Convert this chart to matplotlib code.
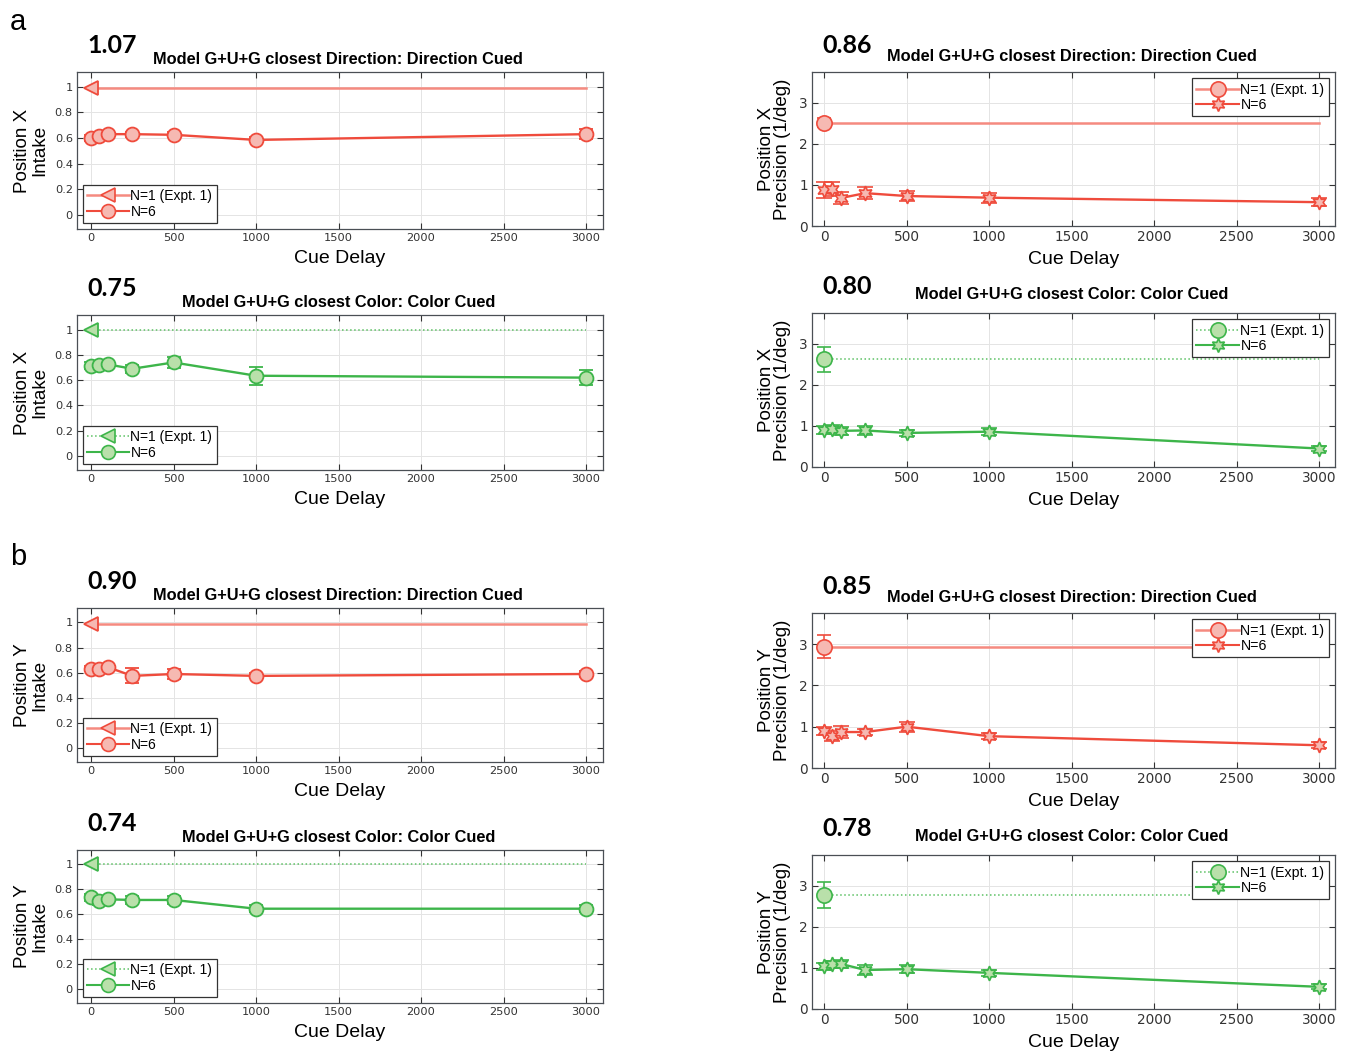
import matplotlib
matplotlib.use("Agg")
import matplotlib.pyplot as plt
from matplotlib.lines import Line2D
import numpy as np

# ---------------- data ----------------
cue_delay = [0, 50, 100, 250, 500, 1000, 3000]

# Intake panels (left column)
intake_x_dir = [0.60, 0.615, 0.63, 0.63, 0.625, 0.585, 0.63]
intake_x_dir_err = [0.02, 0.02, 0.02, 0.02, 0.02, 0.02, 0.04]
intake_x_col = [0.715, 0.72, 0.725, 0.69, 0.74, 0.635, 0.62]
intake_x_col_err = [0.03, 0.03, 0.03, 0.03, 0.04, 0.07, 0.06]
intake_y_dir = [0.63, 0.63, 0.645, 0.575, 0.59, 0.575, 0.59]
intake_y_dir_err = [0.02, 0.02, 0.02, 0.06, 0.04, 0.02, 0.02]
intake_y_col = [0.735, 0.705, 0.72, 0.715, 0.715, 0.645, 0.645]
intake_y_col_err = [0.03, 0.03, 0.03, 0.03, 0.03, 0.03, 0.03]
intake_n1 = [0.99, 1.0, 0.99, 1.0]

# Precision panels (right column)
prec_x_dir = [0.87, 0.90, 0.68, 0.80, 0.73, 0.69, 0.58]
prec_x_dir_err = [0.20, 0.18, 0.15, 0.15, 0.12, 0.12, 0.10]
prec_x_col = [0.90, 0.92, 0.88, 0.89, 0.83, 0.86, 0.45]
prec_x_col_err = [0.10, 0.10, 0.10, 0.10, 0.08, 0.09, 0.07]
prec_y_dir = [0.90, 0.78, 0.87, 0.87, 1.00, 0.77, 0.55]
prec_y_dir_err = [0.10, 0.12, 0.14, 0.08, 0.12, 0.07, 0.07]
prec_y_col = [1.04, 1.10, 1.10, 0.95, 0.97, 0.88, 0.54]
prec_y_col_err = [0.08, 0.08, 0.09, 0.12, 0.10, 0.08, 0.06]
prec_n1 = [2.52, 2.62, 2.93, 2.78]
prec_n1_err = [0.10, 0.30, 0.28, 0.31]

scores_left = ["1.07", "0.75", "0.90", "0.74"]
scores_right = ["0.86", "0.80", "0.85", "0.78"]
titles = ["Model G+U+G closest Direction: Direction Cued",
          "Model G+U+G closest Color: Color Cued",
          "Model G+U+G closest Direction: Direction Cued",
          "Model G+U+G closest Color: Color Cued"]
pos_names = ["X", "X", "Y", "Y"]
legend_labels = ["N=1 (Expt. 1)", "N=6"]
x_ticks = [0, 500, 1000, 1500, 2000, 2500, 3000]

# ---------------- style ----------------
RED_LINE = "#ef4b3c"
RED_FACE = "#f6b9b2"
RED_N1 = "#f58a80"
GREEN_LINE = "#3db54a"
GREEN_FACE = "#b9e0aa"
GREEN_N1 = "#5cc164"
FONT = "Liberation Sans"

W, H = 1348, 1051
fig = plt.figure(figsize=(W / 100, H / 100), dpi=100)
fig.patch.set_facecolor("white")


def add_ax(x0, x1, y0, y1):
    return fig.add_axes([x0 / W, 1 - y1 / H, (x1 - x0) / W, (y1 - y0) / H])


left_rows = [(72, 229), (315, 470), (608, 762), (850, 1003)]
right_rows = [(72, 226), (313, 467), (613, 768), (855, 1009)]

left_data = [(intake_x_dir, intake_x_dir_err), (intake_x_col, intake_x_col_err),
             (intake_y_dir, intake_y_dir_err), (intake_y_col, intake_y_col_err)]
right_data = [(prec_x_dir, prec_x_dir_err), (prec_x_col, prec_x_col_err),
              (prec_y_dir, prec_y_dir_err), (prec_y_col, prec_y_col_err)]
is_red = [True, False, True, False]

hexagram = (6, 1, 0)


def style_axes(ax, tick_fs):
    ax.grid(True, color="#e4e4e4", lw=0.7)
    ax.set_axisbelow(True)
    ax.tick_params(direction="in", top=True, right=True, labelsize=tick_fs,
                   length=4, width=0.8, colors="#333333", pad=3)
    for s in ax.spines.values():
        s.set_color("#4a4f55")
        s.set_linewidth(0.9)
    ax.set_xticks(x_ticks)
    ax.set_xlabel("Cue Delay", fontsize=14, family=FONT, labelpad=5)


def make_legend(ax, handles, loc, fs, pad):
    leg = ax.legend(handles=handles, loc=loc, frameon=True, fancybox=False,
                    borderpad=0.3, handlelength=3.0, labelspacing=0.1,
                    handletextpad=0.1, borderaxespad=pad,
                    prop={"family": FONT, "size": fs})
    leg.get_frame().set_edgecolor("#333333")
    leg.get_frame().set_linewidth(0.9)
    leg.get_frame().set_alpha(1)


for i in range(4):
    red = is_red[i]
    lc = RED_LINE if red else GREEN_LINE
    fc = RED_FACE if red else GREEN_FACE
    n1c = RED_N1 if red else GREEN_N1
    n1ls = "-" if red else ":"
    n1lw = 1.8 if red else 1.1

    # ---------- left: intake ----------
    ax = add_ax(77, 603, *left_rows[i])
    vals, errs = left_data[i]
    ax.plot([cue_delay[0], cue_delay[-1]], [intake_n1[i], intake_n1[i]],
            ls=n1ls, color=n1c, lw=n1lw, marker="<", markevery=[0],
            markersize=10.5, markerfacecolor=fc, markeredgecolor=lc,
            markeredgewidth=1.3)
    ax.errorbar(cue_delay, vals, yerr=errs, color=lc, lw=1.7, marker="o",
                markersize=10, markerfacecolor=fc, markeredgecolor=lc,
                markeredgewidth=1.3, capsize=5, elinewidth=1.1)
    ax.set_xlim(-85, 3103)
    ax.set_ylim(-0.11, 1.115)
    ax.set_yticks([0, 0.2, 0.4, 0.6, 0.8, 1])
    ax.set_yticklabels(["0", "0.2", "0.4", "0.6", "0.8", "1"])
    style_axes(ax, 8.2)
    ax.set_ylabel(f"Position {pos_names[i]}\nIntake", fontsize=13.5,
                  family=FONT, linespacing=0.95, labelpad=5)
    handles = [
        Line2D([], [], color=n1c, ls=n1ls, lw=n1lw, marker="<", markersize=10,
               markerfacecolor=fc, markeredgecolor=lc, markeredgewidth=1.2,
               label=legend_labels[0]),
        Line2D([], [], color=lc, lw=1.5, marker="o", markersize=10,
               markerfacecolor=fc, markeredgecolor=lc, markeredgewidth=1.2,
               label=legend_labels[1]),
    ]
    make_legend(ax, handles, "lower left", 10, 0.45)
    ax.set_title(titles[i], fontsize=11.8, fontweight="bold", family=FONT,
                 pad=6, x=0.497)
    ax.text(0.02, 1.095, scores_left[i], transform=ax.transAxes, fontsize=18,
            fontweight="bold", family="Lato", ha="left", va="bottom")

    # ---------- right: precision ----------
    ax = add_ax(812, 1335, *right_rows[i])
    vals, errs = right_data[i]
    ax.plot([cue_delay[0], cue_delay[-1]], [prec_n1[i], prec_n1[i]],
            ls=n1ls, color=n1c, lw=n1lw, zorder=2)
    ax.errorbar([cue_delay[0]], [prec_n1[i]], yerr=[prec_n1_err[i]], color=n1c,
                ls=n1ls, lw=n1lw, marker="o", markersize=11, markerfacecolor=fc,
                markeredgecolor=lc, markeredgewidth=1.2, capsize=5,
                elinewidth=1.1, ecolor=lc, zorder=3)
    ax.errorbar(cue_delay, vals, yerr=errs, color=lc, lw=1.7, marker=hexagram,
                markersize=10.5, markerfacecolor=fc, markeredgecolor=lc,
                markeredgewidth=1.2, capsize=6, elinewidth=1.1, zorder=4)
    ax.set_xlim(-73, 3097)
    ax.set_ylim(0, 3.75)
    ax.set_yticks([0, 1, 2, 3])
    style_axes(ax, 9.8)
    ax.set_ylabel(f"Position {pos_names[i]}\nPrecision (1/deg)", fontsize=13.5,
                  family=FONT, linespacing=0.95, labelpad=6)
    handles = [
        Line2D([], [], color=n1c, ls=n1ls, lw=n1lw, marker="o", markersize=11,
               markerfacecolor=fc, markeredgecolor=lc, markeredgewidth=1.2,
               label=legend_labels[0]),
        Line2D([], [], color=lc, lw=1.5, marker=hexagram, markersize=10,
               markerfacecolor=fc, markeredgecolor=lc, markeredgewidth=1.2,
               label=legend_labels[1]),
    ]
    make_legend(ax, handles, "upper right", 10.2, 0.45)
    ax.set_title(titles[i], fontsize=11.8, fontweight="bold", family=FONT,
                 pad=8 if i % 2 == 0 else 10, x=0.497)
    ax.text(0.02, 1.095, scores_right[i], transform=ax.transAxes, fontsize=18,
            fontweight="bold", family="Lato", ha="left", va="bottom")

fig.text(10 / W, 1 - 30 / H, "a", fontsize=21, family=FONT)
fig.text(10 / W, 1 - 565 / H, "b", fontsize=21, family=FONT)

fig.savefig("out.png", dpi=100, facecolor="white")
